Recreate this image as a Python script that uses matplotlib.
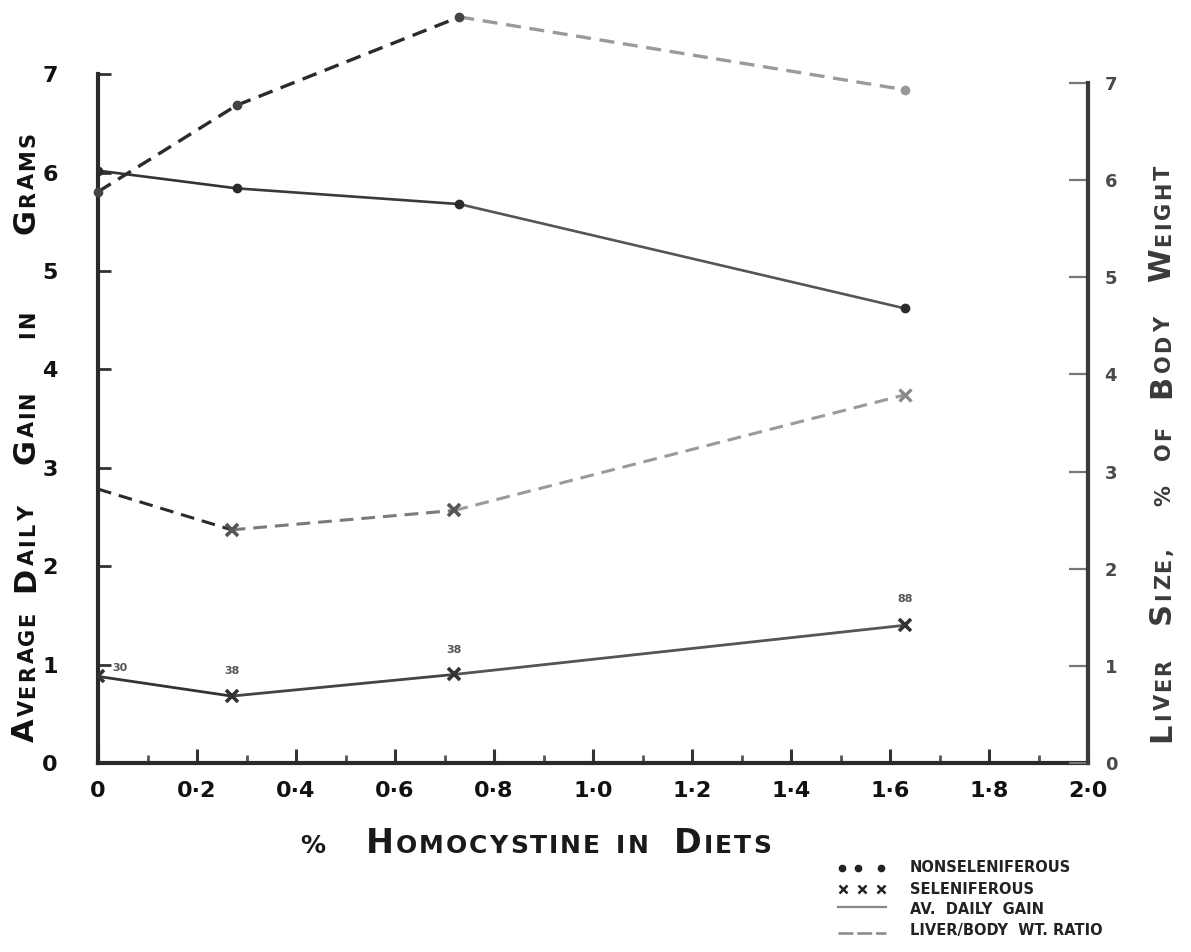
import matplotlib
matplotlib.use("Agg")
import matplotlib.pyplot as plt
from matplotlib.lines import Line2D
from matplotlib.ticker import MultipleLocator, FixedLocator

# ---------------- data ----------------
x_nonsel = [0.0, 0.28, 0.73, 1.63]
gain_nonsel = [6.02, 5.84, 5.68, 4.62]
liver_nonsel = [5.88, 6.77, 7.68, 6.93]

x_sel = [0.0, 0.27, 0.72, 1.63]
gain_sel = [0.88, 0.68, 0.90, 1.40]
liver_sel = [2.82, 2.40, 2.60, 3.79]
sel_counts = ["30", "38", "38", "88"]

x_ticks = [0.0, 0.2, 0.4, 0.6, 0.8, 1.0, 1.2, 1.4, 1.6, 1.8, 2.0]
x_tick_labels = ["0", "0·2", "0·4", "0·6", "0·8", "1·0", "1·2", "1·4", "1·6", "1·8", "2·0"]
y_ticks = [0, 1, 2, 3, 4, 5, 6, 7]
y_tick_labels = ["0", "1", "2", "3", "4", "5", "6", "7"]

legend_items = ["NONSELENIFEROUS", "SELENIFEROUS", "AV.  DAILY  GAIN", "LIVER/BODY  WT. RATIO"]

W, H = 1191, 952
FONT = "DejaVu Sans"
plt.rcParams["font.family"] = [FONT]

fig = plt.figure(figsize=(W / 100, H / 100), dpi=100)
fig.patch.set_facecolor("white")

ax = fig.add_axes([98 / W, (H - 763) / H, 990 / W, 762.6 / H])
ax2 = ax.twinx()

ax.set_xlim(0, 2.0)
ax.set_ylim(0, 7.75)
ax2.set_ylim(0, 7.85)

# spines
for a in (ax, ax2):
    a.spines["top"].set_visible(False)
    a.patch.set_visible(False)
ax.spines["right"].set_visible(False)
ax2.spines["left"].set_visible(False)
ax2.spines["bottom"].set_visible(False)
ax.spines["left"].set_bounds(0, 7)
ax2.spines["right"].set_bounds(0, 7)
ax.spines["left"].set_linewidth(3.0)
ax.spines["bottom"].set_linewidth(3.0)
ax2.spines["right"].set_linewidth(3.0)
ax.spines["left"].set_color("#2a2a2a")
ax.spines["bottom"].set_color("#2a2a2a")
ax2.spines["right"].set_color("#3a3a3a")

# ticks
ax.xaxis.set_major_locator(FixedLocator(x_ticks))
ax.xaxis.set_minor_locator(MultipleLocator(0.1))
ax.set_xticklabels(x_tick_labels)
ax.yaxis.set_major_locator(FixedLocator(y_ticks))
ax.set_yticklabels(y_tick_labels)
ax2.yaxis.set_major_locator(FixedLocator(y_ticks))
ax2.set_yticklabels(y_tick_labels)

ax.tick_params(axis="x", which="major", direction="in", length=10, width=2.2,
               color="#333333", pad=13, labelsize=16)
ax.tick_params(axis="x", which="minor", direction="in", length=6, width=2.0, color="#555555")
ax.tick_params(axis="y", which="major", direction="in", length=9, width=2.0,
               color="#333333", pad=29, labelsize=16)
ax2.tick_params(axis="y", which="major", direction="in", length=14, width=1.6,
                color="#777777", pad=12, labelsize=13, labelcolor="#4a4a4a")
for lab in ax.get_xticklabels() + ax.get_yticklabels():
    lab.set_fontweight("bold")
    lab.set_color("#111111")
for lab in ax2.get_yticklabels():
    lab.set_fontweight("bold")

# ---------------- series ----------------
dark = "#2b2b2b"
light = "#9a9a9a"

# nonseleniferous average daily gain (solid, dots)
for i in range(len(x_nonsel) - 1):
    ax.plot(x_nonsel[i:i + 2], gain_nonsel[i:i + 2], color=["#333333", "#3a3a3a", "#555555"][i],
            lw=1.9, solid_capstyle="round", zorder=3)
ax.plot(x_nonsel, gain_nonsel, ls="none", marker="o", ms=6, color=dark, zorder=4)

# seleniferous average daily gain (solid, x)
for i in range(len(x_sel) - 1):
    ax.plot(x_sel[i:i + 2], gain_sel[i:i + 2], color=["#333333", "#444444", "#555555"][i],
            lw=2.0, solid_capstyle="round", zorder=3)
ax.plot(x_sel, gain_sel, ls="none", marker="x", ms=8, mew=2.6, color="#333333", zorder=4)

# liver / body weight ratios on right axis (dashed)
seg_nonsel = [dark, dark, light]
for i in range(len(x_nonsel) - 1):
    ax2.plot(x_nonsel[i:i + 2], liver_nonsel[i:i + 2], color=seg_nonsel[i], lw=2.4,
             dashes=(4.5, 2.6), clip_on=False, zorder=3)
ax2.plot(x_nonsel[:3], liver_nonsel[:3], ls="none", marker="o", ms=6, color="#444444",
         clip_on=False, zorder=4)
ax2.plot(x_nonsel[3:], liver_nonsel[3:], ls="none", marker="o", ms=6, color="#999999",
         clip_on=False, zorder=4)

seg_sel = [dark, "#7a7a7a", light]
for i in range(len(x_sel) - 1):
    ax2.plot(x_sel[i:i + 2], liver_sel[i:i + 2], color=seg_sel[i], lw=2.2,
             dashes=(4.5, 2.6), zorder=3)
ax2.plot(x_sel[1:3], liver_sel[1:3], ls="none", marker="x", ms=8, mew=2.6, color="#555555", zorder=4)
ax2.plot(x_sel[3:], liver_sel[3:], ls="none", marker="x", ms=8, mew=2.4, color="#8a8a8a", zorder=4)

# small count annotations on the seleniferous gain curve
offsets = [(0.045, 0.03), (0.0, 0.20), (0.0, 0.20), (0.0, 0.22)]
for xv, yv, lab, (dx, dy) in zip(x_sel, gain_sel, sel_counts, offsets):
    ax.text(xv + dx, yv + dy, lab, fontsize=8, fontweight="bold", color="#555555",
            ha="center", va="bottom", zorder=5)

# ---------------- small-caps labels ----------------
fig.canvas.draw()
renderer = fig.canvas.get_renderer()


def text_width(ch, size):
    t = fig.text(0, 0, ch, fontsize=size, fontweight="bold", family=FONT)
    w = t.get_window_extent(renderer).width
    t.remove()
    return w


ALL_SMALL = ("IN", "OF", "%")


def smallcaps(words, starts, baseline, big, small, rotation, color, track):
    for word, start in zip(words, starts):
        p = start
        for i, ch in enumerate(word):
            size = big if (i == 0 and word not in ALL_SMALL) else small
            w = text_width(ch, size)
            if rotation == 0:
                fig.text(p / W, 1 - baseline / H, ch, fontsize=size, fontweight="bold",
                         color=color, ha="left", va="baseline", family=FONT)
                p += w + track
            else:
                fig.text(baseline / W, 1 - p / H, ch, fontsize=size, fontweight="bold",
                         color=color, ha="left", va="baseline", rotation=90,
                         rotation_mode="anchor", family=FONT)
                p -= w + track


# left y label (reads bottom -> top)
smallcaps(["AVERAGE", "DAILY", "GAIN", "IN", "GRAMS"],
          [742, 592, 464, 338, 234], 34, 22, 15, 90, "#111111", 2.2)
# right y label
smallcaps(["LIVER", "SIZE,", "%", "OF", "BODY", "WEIGHT"],
          [742, 624, 506, 460, 398, 282], 1170, 22, 15, 90, "#3a3a3a", 2.5)
# x label
smallcaps(["%", "HOMOCYSTINE", "IN", "DIETS"],
          [300, 366, 616, 674], 853, 24, 18, 0, "#1a1a1a", 2.0)

# ---------------- legend ----------------
leg_y = [868, 889, 910, 931]
for yy, lab in zip(leg_y, legend_items):
    fig.text(910 / W, 1 - yy / H, lab, fontsize=10.5, fontweight="bold",
             color="#222222", ha="left", va="center", family=FONT)

fig.add_artist(Line2D([842 / W, 858 / W, 881 / W], [1 - 868 / H] * 3, ls="none",
                      marker="o", ms=4.5, color="#222222", transform=fig.transFigure))
fig.add_artist(Line2D([843 / W, 862 / W, 881 / W], [1 - 889 / H] * 3, ls="none",
                      marker="x", ms=5.5, mew=1.8, color="#222222", transform=fig.transFigure))
fig.add_artist(Line2D([838 / W, 886 / W], [1 - 907 / H] * 2, color="#888888", lw=1.6,
                      transform=fig.transFigure))
fig.add_artist(Line2D([838 / W, 886 / W], [1 - 933 / H] * 2, color="#888888", lw=1.8,
                      dashes=(6, 1.5), transform=fig.transFigure))

fig.savefig("out.png", dpi=100, facecolor="white")
